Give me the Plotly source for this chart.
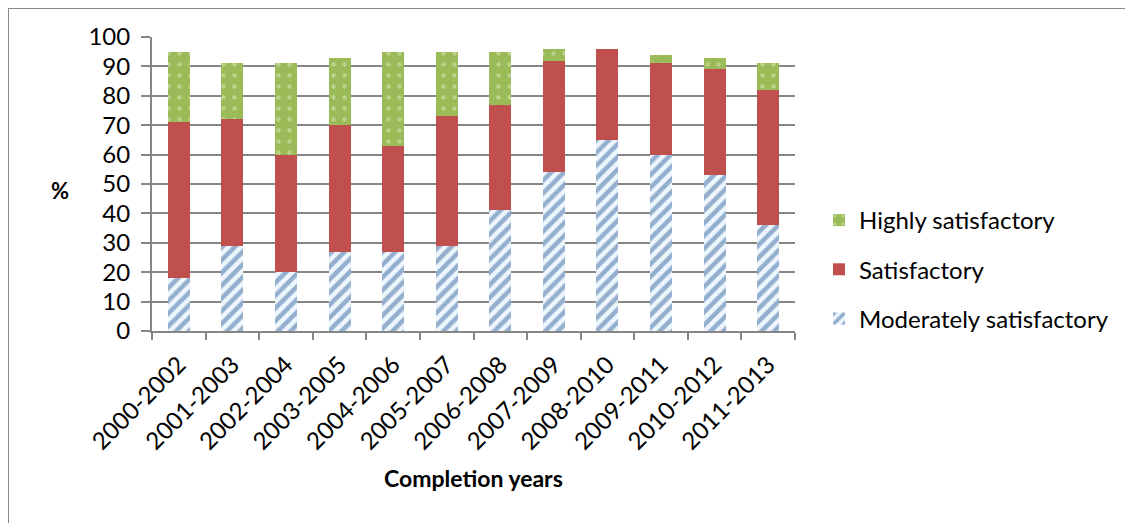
import plotly.graph_objects as go

# completion periods and rating shares (%)
periods = ["2000-2002", "2001-2003", "2002-2004", "2003-2005", "2004-2006", "2005-2007",
           "2006-2008", "2007-2009", "2008-2010", "2009-2011", "2010-2012", "2011-2013"]
moderately = [18, 29, 20, 27, 27, 29, 41, 54, 65, 60, 53, 36]
satisfactory = [53, 43, 40, 43, 36, 44, 36, 38, 31, 31, 36, 46]
highly = [24, 19, 31, 23, 32, 22, 18, 4, 0, 3, 4, 9]

W, H = 1133, 523
OFF = 8  # page body margin, positions below are screenshot pixels
L, R, T, B = 152 - OFF, 795 - OFF, 37 - OFF, 331 - OFF   # plot area, figure pixels


def px_x(p):
    return (p - OFF - L) / (R - L)


def px_y(p):
    return (B - (p - OFF)) / (B - T)


font = "Lato, Calibri, sans-serif"

fig = go.Figure()
fig.add_trace(go.Bar(
    x=periods, y=moderately, name="Moderately satisfactory", legendrank=3,
    legendgroup="m",
    marker=dict(color="#eef6fd", line=dict(width=0),
                pattern=dict(shape="/", fgcolor="#3a67a0", bgcolor="#eef6fd",
                             size=9, solidity=0.5)),
))
fig.add_trace(go.Bar(
    x=periods, y=satisfactory, name="Satisfactory", legendrank=2, legendgroup="s",
    marker=dict(color="#c0504d", line=dict(width=0)),
))
fig.add_trace(go.Bar(
    x=periods, y=highly, name="Highly satisfactory", legendrank=1, legendgroup="h",
    marker=dict(color="#9bbb59", line=dict(width=0),
                pattern=dict(shape=".", fgcolor="#dcebbd", bgcolor="#9bbb59",
                             size=11, solidity=0.12)),
))

fig.update_layout(
    width=W, height=H,
    margin=dict(l=L, r=W - R, t=T, b=H - B, autoexpand=False),
    barmode="stack", bargap=0.59,
    plot_bgcolor="white", paper_bgcolor="white",
    font=dict(family=font, size=24, color="black"),
    showlegend=True,
    legend=dict(xref="container", yref="container",
                x=(819 - OFF) / W, y=1 - (198 - OFF) / H, xanchor="left", yanchor="top",
                traceorder="grouped", tracegroupgap=15,
                font=dict(size=24), bgcolor="rgba(0,0,0,0)"),
    xaxis=dict(
        showline=True, linecolor="#868686", linewidth=2,
        ticks="outside", tickson="boundaries", ticklen=7, tickcolor="#868686", tickwidth=2,
        tickangle=-45, tickfont=dict(size=24), showgrid=False, ticklabelstandoff=8,
    ),
    yaxis=dict(
        range=[0, 100], dtick=10,
        showline=True, linecolor="#868686", linewidth=2,
        ticks="outside", ticklen=9, tickcolor="#868686", tickwidth=2,
        showgrid=True, gridcolor="#868686", gridwidth=2,
        tickfont=dict(size=24), zeroline=False, ticklabelstandoff=6,
    ),
    shapes=[dict(type="rect", xref="paper", yref="paper",
                 x0=px_x(OFF), x1=2, y0=-2, y1=px_y(OFF),
                 line=dict(color="#8a8a8a", width=2), layer="below")],
    annotations=[
        dict(text="<b>Completion years</b>", xref="paper", yref="paper",
             x=px_x(473), y=px_y(478), xanchor="center", yanchor="middle",
             showarrow=False, font=dict(size=23)),
        dict(text="<b>%</b>", xref="paper", yref="paper",
             x=px_x(60), y=px_y(190), xanchor="center", yanchor="middle",
             showarrow=False, font=dict(size=22)),
    ],
)

fig.write_html("out.html")
